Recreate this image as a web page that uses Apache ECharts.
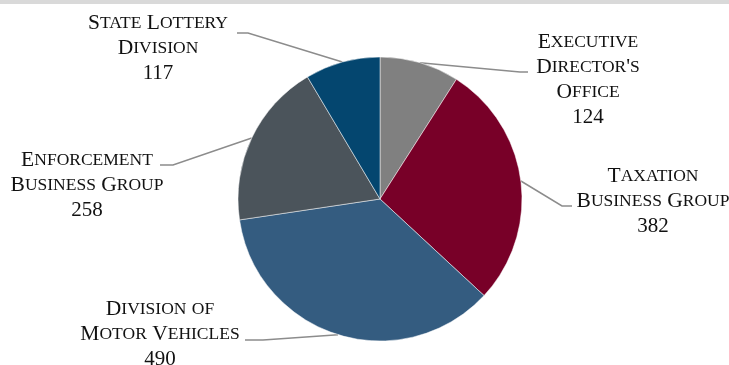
<!DOCTYPE html>
<html>
<head>
<meta charset="utf-8">
<script src="https://cdn.jsdelivr.net/npm/echarts@6/dist/echarts.min.js"></script>
<style>
  html, body { margin: 0; padding: 0; background: #ffffff; }
  #chart { width: 729px; height: 365px; }
</style>
</head>
<body>
<div id="chart"></div>
<script>
// Headcount by division
const divisions = [
  "Executive Director's Office",
  "Taxation Business Group",
  "Division of Motor Vehicles",
  "Enforcement Business Group",
  "State Lottery Division"
];
const headcounts = [124, 382, 490, 258, 117];
const sliceColors = ['#808080', '#780028', '#345c80', '#4b545b', '#04466f'];
// How each division name wraps inside its label
const nameLines = [
  ["Executive", "Director's", "Office"],
  ["Taxation", "Business Group"],
  ["Division of", "Motor Vehicles"],
  ["Enforcement", "Business Group"],
  ["State Lottery", "Division"]
];

// Label placement: block centre, leader-line elbow and end
const labelPlacement = [
  { x: 588, y: 80,  elbow: [520, 72],  end: [528, 72] },
  { x: 653, y: 201, elbow: [562, 206], end: [572, 206] },
  { x: 160, y: 334, elbow: [263, 340], end: [245, 340] },
  { x: 87,  y: 185, elbow: [173, 165], end: [160, 165] },
  { x: 158, y: 48,  elbow: [248, 33],  end: [237, 33] }
];

// Render a line of text as small caps using rich-text runs
function smallCaps(text) {
  let out = '';
  let run = '';
  let cur = null;
  const flush = () => {
    if (run) out += '{' + cur + '|' + run + '}';
    run = '';
  };
  for (const ch of text) {
    const style = (ch >= 'a' && ch <= 'z') ? 's' : 'b';
    if (style !== cur) { flush(); cur = style; }
    run += ch.toUpperCase();
  }
  flush();
  return out;
}

const pieData = divisions.map((name, i) => ({
  name: name,
  value: headcounts[i],
  itemStyle: { color: sliceColors[i] }
}));

const chart = echarts.init(document.getElementById('chart'), null, { renderer: 'canvas' });

const serif = '"Liberation Serif", "Times New Roman", serif';

chart.setOption({
  animation: false,
  backgroundColor: '#ffffff',
  graphic: [
    { type: 'rect', left: 0, top: 0, shape: { width: 729, height: 4 }, style: { fill: '#d9d9d9' }, silent: true }
  ],
  series: [{
    type: 'pie',
    center: [380, 199],
    radius: 142,
    startAngle: 90,
    clockwise: true,
    avoidLabelOverlap: false,
    data: pieData,
    itemStyle: { borderColor: '#ffffff', borderWidth: 0.5 },
    label: {
      show: true,
      position: 'outside',
      color: '#111111',
      fontFamily: serif,
      formatter: function (p) {
        const rows = nameLines[p.dataIndex].map(smallCaps);
        rows.push('{n|' + p.value + '}');
        return rows.join('\n');
      },
      rich: {
        b: { fontFamily: serif, fontSize: 21.5, lineHeight: 25, color: '#111111' },
        s: { fontFamily: serif, fontSize: 17.5, lineHeight: 25, color: '#111111' },
        n: { fontFamily: serif, fontSize: 21, lineHeight: 25, color: '#111111' }
      }
    },
    labelLine: {
      show: true,
      smooth: false,
      lineStyle: { color: '#8c8c8c', width: 1.5 }
    },
    labelLayout: function (params) {
      const place = labelPlacement[params.dataIndex];
      const start = params.labelLinePoints ? params.labelLinePoints[0] : place.elbow;
      return {
        x: place.x,
        y: place.y,
        align: 'center',
        verticalAlign: 'middle',
        labelLinePoints: [start, place.elbow, place.end]
      };
    }
  }]
});
</script>
</body>
</html>
